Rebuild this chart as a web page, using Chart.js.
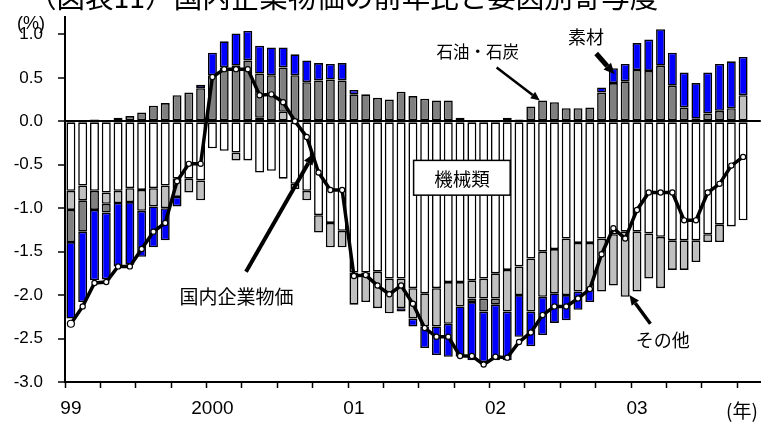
<!DOCTYPE html>
<html>
<head>
<meta charset="utf-8">
<script src="https://cdn.jsdelivr.net/npm/chart.js@4/dist/chart.umd.min.js"></script>
<style>
  html, body { margin: 0; padding: 0; background: #fff; }
  #wrap { width: 766px; height: 422px; }
</style>
</head>
<body>
<div id="wrap"><canvas id="c" width="766" height="422"></canvas></div>
<script>
// Monthly categories, Jan 1999 to Nov 2003 (the last month carries no data)
const categories = [];
for (let yr = 1999; yr <= 2003; yr++) {
  for (let m = 1; m <= 12; m++) categories.push(yr + '/' + m);
}
categories.length = 59;

// Year labels shown under each January
const yearLabels = ['99', '2000', '01', '02', '03'];

// Contribution by group (percentage points, year-on-year)
const machinery = [
  -0.80, -0.74, -0.80, -0.82, -0.80, -0.77, -0.79, -0.77, -0.74, -0.66, -0.66, -0.68,
  -0.31, -0.34, -0.36, -0.45, -0.59, -0.57, -0.66, -0.72, -0.80, -1.08, -1.17, -1.26,
  -1.74, -1.74, -1.73, -1.81, -1.81, -1.92, -1.98, -1.92, -1.85, -1.85, -1.83, -1.81,
  -1.75, -1.71, -1.67, -1.58, -1.50, -1.47, -1.35, -1.40, -1.40, -1.35, -1.30, -1.27,
  -1.27, -1.29, -1.33, -1.37, -1.37, -1.37, -1.30, -1.19, -1.21, -1.14, null
];
const others = [
  -0.22, -0.17, 0.02, -0.13, -0.14, -0.16, -0.24, -0.21, -0.26, -0.21, -0.16, -0.23,
  null, null, -0.09, null, 0.04, null, 0.11, -0.06, -0.11, -0.20, -0.28, -0.19,
  -0.37, -0.34, -0.42, -0.40, -0.34, -0.35, -0.38, -0.44, -0.48, -0.28, -0.21, -0.23,
  -0.29, -0.48, -0.33, -0.61, -0.52, -0.51, -0.65, -0.56, -0.54, -0.61, -0.59, -0.75,
  -0.69, -0.52, -0.59, -0.34, -0.34, -0.25, -0.09, -0.20, null, 0.30, null
];
const petroleum = [
  -0.37, -0.36, -0.22, -0.10, 0.04, 0.06, 0.10, 0.18, 0.21, 0.30, 0.33, 0.38,
  0.53, 0.62, 0.64, 0.70, 0.51, 0.53, 0.51, 0.53, 0.45, 0.47, 0.48, 0.47,
  0.31, 0.31, 0.27, 0.25, 0.34, 0.29, 0.26, 0.24, 0.24, 0.04, -0.04, -0.15,
  -0.07, 0.04, 0.02, 0.17, 0.24, 0.22, 0.15, 0.15, 0.16, 0.33, 0.44, 0.46,
  0.59, 0.58, 0.64, 0.41, 0.16, 0.03, 0.09, 0.12, 0.15, null, null
];
const materials = [
  -0.88, -0.81, -0.81, -0.77, -0.73, -0.72, -0.53, -0.47, -0.37, -0.11, null, 0.04,
  0.26, 0.30, 0.37, 0.34, 0.32, 0.32, 0.23, 0.24, 0.25, 0.20, 0.18, 0.20,
  0.05, null, null, null, -0.04, -0.09, -0.25, -0.33, -0.38, -0.58, -0.67, -0.58,
  -0.64, -0.56, -0.48, -0.40, -0.44, -0.34, -0.29, -0.21, -0.14, 0.06, 0.17, 0.20,
  0.31, 0.36, 0.42, 0.38, 0.40, 0.41, 0.47, 0.54, 0.54, 0.44, null
];
// Domestic corporate goods price index, year-on-year change (%)
const cgpi = [
  -2.33, -2.13, -1.86, -1.85, -1.67, -1.67, -1.47, -1.27, -1.17, -0.69, -0.49, -0.49,
  0.51, 0.60, 0.60, 0.60, 0.30, 0.31, 0.22, 0.00, -0.18, -0.59, -0.79, -0.79,
  -1.78, -1.77, -1.89, -1.99, -1.89, -2.10, -2.38, -2.48, -2.48, -2.70, -2.70, -2.80,
  -2.71, -2.72, -2.54, -2.43, -2.23, -2.13, -2.13, -2.04, -1.93, -1.53, -1.23, -1.35,
  -1.02, -0.82, -0.82, -0.82, -1.14, -1.14, -0.82, -0.72, -0.51, -0.41, null
];

const numFont = "'Liberation Sans', Arial, sans-serif";
const jpFont = "'Noto Sans CJK JP', 'Noto Sans CJK SC', sans-serif";

// Callout labels with arrows, placed in axis units [month index, %]
const callouts = [
  { text: '国内企業物価', at: [9.2, -2.02], size: 19,
    arrow: { from: [14.85, -1.73], to: [20.6, -0.37], width: 4, head: 11 } },
  { text: '石油・石炭', at: [31.0, 0.80], size: 16.5,
    arrow: { from: [36.1, 0.62], to: [39.76, 0.24], width: 2.5, head: 9 } },
  { text: '素材', at: [42.15, 0.97], size: 18,
    arrow: { from: [44.54, 0.78], to: [46.1, 0.54], width: 5, head: 11 } },
  { text: 'その他', at: [47.9, -2.52], size: 18,
    arrow: { from: [49.14, -2.33], to: [47.36, -2.0], width: 3.5, head: 10 } }
];
const boxedLabel = { text: '機械類', from: [29.06, -0.45], to: [37.25, -0.85], size: 18.5 };

function drawArrow(ctx, x0, y0, x1, y1, width, head) {
  const ang = Math.atan2(y1 - y0, x1 - x0);
  const bx = x1 - Math.cos(ang) * head;
  const by = y1 - Math.sin(ang) * head;
  ctx.save();
  ctx.strokeStyle = '#000';
  ctx.fillStyle = '#000';
  ctx.lineWidth = width;
  ctx.beginPath();
  ctx.moveTo(x0, y0);
  ctx.lineTo(bx, by);
  ctx.stroke();
  const hw = head * 0.45;
  ctx.beginPath();
  ctx.moveTo(x1, y1);
  ctx.lineTo(bx + Math.sin(ang) * hw, by - Math.cos(ang) * hw);
  ctx.lineTo(bx - Math.sin(ang) * hw, by + Math.cos(ang) * hw);
  ctx.closePath();
  ctx.fill();
  ctx.restore();
}

const decorations = {
  id: 'decorations',
  afterDatasetsDraw(chart) {
    const { ctx, chartArea, scales: { x, y } } = chart;
    const px = p => [x.getPixelForValue(p[0]), y.getPixelForValue(p[1])];

    // boxed label
    const [bx0, by0] = px(boxedLabel.from);
    const [bx1, by1] = px(boxedLabel.to);
    ctx.save();
    ctx.fillStyle = '#fff';
    ctx.strokeStyle = '#000';
    ctx.lineWidth = 1.5;
    ctx.fillRect(bx0, by0, bx1 - bx0, by1 - by0);
    ctx.strokeRect(bx0, by0, bx1 - bx0, by1 - by0);
    ctx.fillStyle = '#000';
    ctx.font = boxedLabel.size + 'px ' + jpFont;
    ctx.textAlign = 'center';
    ctx.textBaseline = 'middle';
    ctx.fillText(boxedLabel.text, (bx0 + bx1) / 2, (by0 + by1) / 2 + 1);
    ctx.restore();

    // callouts
    callouts.forEach(c => {
      const [tx, ty] = px(c.at);
      ctx.save();
      ctx.fillStyle = '#000';
      ctx.font = c.size + 'px ' + jpFont;
      ctx.textAlign = 'left';
      ctx.textBaseline = 'middle';
      ctx.fillText(c.text, tx, ty);
      ctx.restore();
      const [ax0, ay0] = px(c.arrow.from);
      const [ax1, ay1] = px(c.arrow.to);
      drawArrow(ctx, ax0, ay0, ax1, ay1, c.arrow.width, c.arrow.head);
    });

    // unit labels
    ctx.save();
    ctx.fillStyle = '#000';
    ctx.font = '18px ' + numFont;
    ctx.textAlign = 'center';
    ctx.textBaseline = 'middle';
    ctx.fillText('(%)', chartArea.left - 34, y.getPixelForValue(1.0) - 10);
    ctx.font = '19px ' + jpFont;
    ctx.textAlign = 'right';
    ctx.fillText('(年)', chartArea.right - 3, chartArea.bottom + 29);
    ctx.restore();

    // heading, running off the top edge
    ctx.save();
    ctx.fillStyle = '#000';
    ctx.font = '28.5px ' + jpFont;
    ctx.textAlign = 'left';
    ctx.textBaseline = 'alphabetic';
    ctx.fillText('（図表11）国内企業物価の前年比と要因別寄与度', 28, 7.5);
    ctx.restore();
  }
};

const barStyle = {
  type: 'bar',
  stack: 'contrib',
  borderColor: '#000',
  borderWidth: 1.6,
  borderSkipped: false,
  barPercentage: 0.76,
  categoryPercentage: 1.0,
  order: 1
};

new Chart(document.getElementById('c'), {
  data: {
    labels: categories,
    datasets: [
      { ...barStyle, label: '機械類', data: machinery, backgroundColor: '#ffffff' },
      { ...barStyle, label: 'その他', data: others, backgroundColor: '#c0c0c0' },
      { ...barStyle, label: '石油・石炭', data: petroleum, backgroundColor: '#808080' },
      { ...barStyle, label: '素材', data: materials, backgroundColor: '#0000ff' },
      {
        type: 'line', label: '国内企業物価', data: cgpi, stack: 'line', order: 0,
        borderColor: '#000', borderWidth: 3.5, tension: 0,
        pointRadius: ctx => ctx.dataIndex === 0 ? 3.5 : 2.6,
        pointBackgroundColor: '#fff', pointBorderColor: '#000', pointBorderWidth: 1.2
      }
    ]
  },
  options: {
    responsive: false,
    animation: false,
    devicePixelRatio: 1,
    layout: { padding: { top: 17, right: 2, left: 0, bottom: 0 } },
    plugins: { legend: { display: false }, tooltip: { enabled: false }, title: { display: false } },
    scales: {
      x: {
        type: 'category',
        stacked: true,
        offset: true,
        afterFit: s => { s.height = 40; s.paddingLeft = 0; s.paddingRight = 0; },
        border: { display: true, color: '#000', width: 2 },
        grid: {
          offset: true,
          drawOnChartArea: false,
          drawTicks: true,
          tickLength: 6,
          tickWidth: 1.5,
          tickColor: c => (c.index % 3 === 0 ? '#000' : 'rgba(0,0,0,0)')
        },
        ticks: {
          autoSkip: false,
          maxRotation: 0,
          minRotation: 0,
          padding: 9,
          color: '#000',
          font: { family: numFont, size: 19 },
          callback: (v, i) => (i % 12 === 0 ? yearLabels[i / 12] : '')
        }
      },
      y: {
        stacked: true,
        min: -3,
        max: 1.2,
        afterFit: s => { s.width = 65; s.paddingTop = 0; s.paddingBottom = 0; },
        border: { display: true, color: '#000', width: 2 },
        grid: {
          drawOnChartArea: true,
          color: c => (c.tick && c.tick.value === 0 ? '#000' : 'rgba(0,0,0,0)'),
          lineWidth: 2,
          tickColor: '#000',
          tickLength: 7,
          tickWidth: 1.5
        },
        ticks: {
          stepSize: 0.5,
          includeBounds: false,
          padding: 15,
          color: '#000',
          font: { family: numFont, size: 17 },
          callback: v => v.toFixed(1)
        }
      }
    }
  },
  plugins: [decorations]
});
</script>
</body>
</html>
